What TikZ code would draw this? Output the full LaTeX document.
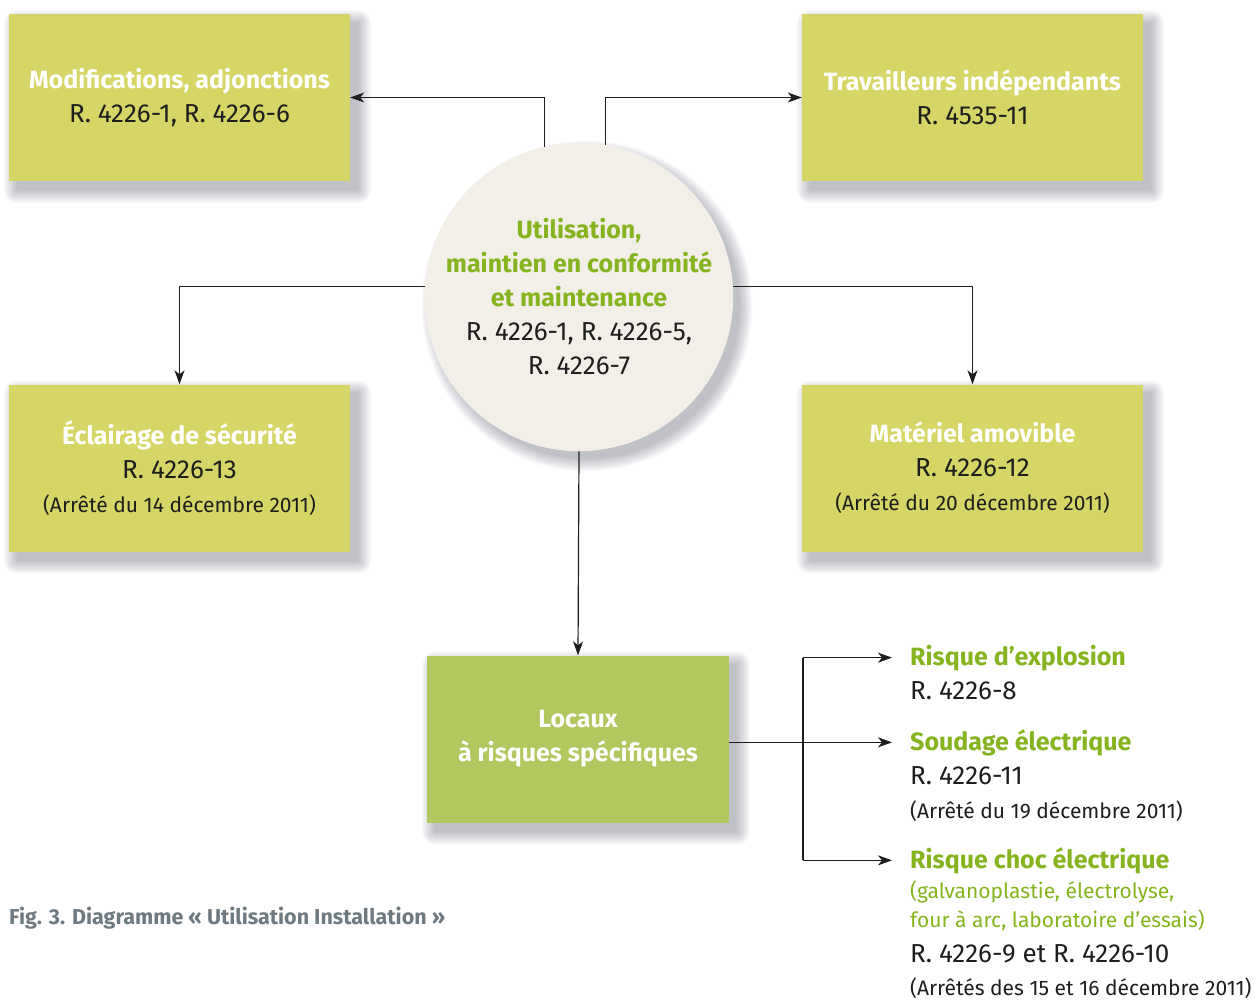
\documentclass[tikz,border=0pt]{standalone}
\usepackage{fontspec}
\setmainfont{Fira Sans}
\usetikzlibrary{arrows.meta}
\definecolor{boxyellow}{RGB}{214,214,102}
\definecolor{boxgreen}{RGB}{178,199,94}
\definecolor{circfill}{RGB}{242,239,232}
\definecolor{txtgreen}{RGB}{134,180,30}
\definecolor{txtdark}{RGB}{30,30,30}
\definecolor{captgray}{RGB}{111,122,128}
\definecolor{shadcol}{RGB}{50,60,80}
\newcommand{\ttlsz}{\fontsize{25}{34}\selectfont}
\newcommand{\refsz}{\fontsize{26}{34}\selectfont}
\newcommand{\smlsz}{\fontsize{21}{34}\selectfont}
\pgfdeclarelayer{bg}
\pgfdeclarelayer{shadowlayer}
\pgfsetlayers{bg,shadowlayer,main}
\newcommand{\rectshadow}[1]{%
  \begin{pgfonlayer}{shadowlayer}
  \foreach \g in {0,1,...,13}{
    \fill[shadcol, opacity=0.022, rounded corners=\g pt]
      ([shift={(8-\g,9-\g)}]#1.north west) rectangle ([shift={(8+\g,9+\g)}]#1.south east);
  }
  \end{pgfonlayer}}
\newcommand{\circshadow}[1]{%
  \begin{pgfonlayer}{shadowlayer}
  \foreach \g in {0,1,...,13}{
    \fill[shadcol, opacity=0.022] ([shift={(8,9)}]#1.center) circle[radius=152.5+\g];
  }
  \end{pgfonlayer}}
\tikzset{
  refbox/.style={fill=boxyellow, minimum width=341pt, minimum height=167pt, inner sep=0pt, align=center, text=txtdark,
    font=\refsz},
  locbox/.style={refbox, fill=boxgreen, minimum width=302pt},
  hub/.style={circle, fill=circfill, minimum size=305pt, inner sep=0pt, align=center, text=txtdark,
    font=\refsz},
  ttl/.style={anchor=base west, inner sep=0pt, text=txtgreen, font=\bfseries\ttlsz},
  ref/.style={anchor=base west, inner sep=0pt, text=txtdark, font=\refsz},
  small/.style={anchor=base west, inner sep=0pt, text=txtdark, font=\smlsz},
  smallg/.style={small, text=txtgreen},
  arr/.style={draw=txtdark, line width=1.2pt, -{Stealth[length=14pt,width=10pt,inset=4pt]}},
  plain/.style={draw=txtdark, line width=1.2pt}
}
\begin{document}
\begin{tikzpicture}[x=1pt,y=-1pt]
\begin{pgfonlayer}{bg}
\useasboundingbox[fill=white] (0,0) rectangle (1257,999);
\end{pgfonlayer}

\node[refbox] (mod) at (179.5,97.5) {{\bfseries\ttlsz\color{white}Modifications, adjonctions}\\R. 4226-1, R. 4226-6};
\node[refbox] (trav) at (972.5,97.5) {{\bfseries\ttlsz\color{white}Travailleurs indépendants}\\R. 4535-11};
\node[refbox] (ecl) at (179.5,468) {{\bfseries\ttlsz\color{white}Éclairage de sécurité}\\R. 4226-13\\{\smlsz(Arrêté du 14 décembre 2011)}};
\node[refbox] (mat) at (972.5,468) {{\bfseries\ttlsz\color{white}Matériel amovible}\\R. 4226-12\\{\smlsz(Arrêté du 20 décembre 2011)}};
\node[locbox] (loc) at (578,739) {{\bfseries\ttlsz\color{white}Locaux}\\{\bfseries\ttlsz\color{white}à risques spécifiques}};
\node[hub] (ctr) at (579,297) {{\bfseries\ttlsz\color{txtgreen}Utilisation,}\\{\bfseries\ttlsz\color{txtgreen}maintien en conformité}\\{\bfseries\ttlsz\color{txtgreen}et maintenance}\\R. 4226-1, R. 4226-5,\\R. 4226-7};

\rectshadow{mod}
\rectshadow{trav}
\rectshadow{ecl}
\rectshadow{mat}
\rectshadow{loc}
\circshadow{ctr}

\node[ttl] (expl) at (910,665) {Risque d’explosion};
\node[ref] (expl1) at (910,699) {R. 4226-8};
\node[ttl] (soud) at (910,750) {Soudage électrique};
\node[ref] (soud1) at (910,784) {R. 4226-11};
\node[small] (soud2) at (910,818) {(Arrêté du 19 décembre 2011)};
\node[ttl] (choc) at (910,868) {Risque choc électrique};
\node[smallg] (choc1) at (910,898) {(galvanoplastie, électrolyse,};
\node[smallg] (choc2) at (910,927) {four à arc, laboratoire d’essais)};
\node[ref] (choc3) at (910,962) {R. 4226-9 et R. 4226-10};
\node[small] (choc4) at (910,995) {(Arrêtés des 15 et 16 décembre 2011)};

\node[anchor=base west, inner sep=0pt, text=captgray, font=\bfseries\fontsize{21.5}{24}\selectfont] (cap) at (9,924) {Fig. 3. Diagramme « Utilisation Installation »};

\coordinate (br) at (803,0);

\draw[arr] (ctr.103) |- (mod.east);
\draw[arr] (ctr.80) |- (trav.west);
\draw[arr] (ctr.176) -| (ecl.north);
\draw[arr] (ctr.4) -| (mat.north);
\draw[arr] (ctr.south) -- (loc.north);
\draw[arr] (loc.east |- soud.west) -- ([xshift=-18pt]soud.west);
\draw[arr] (br |- expl.west) -- ([xshift=-18pt]expl.west);
\draw[arr] (br |- choc.west) -- ([xshift=-18pt]choc.west);
\draw[plain] (br |- expl.west) -- (br |- choc.west);
\end{tikzpicture}
\end{document}
